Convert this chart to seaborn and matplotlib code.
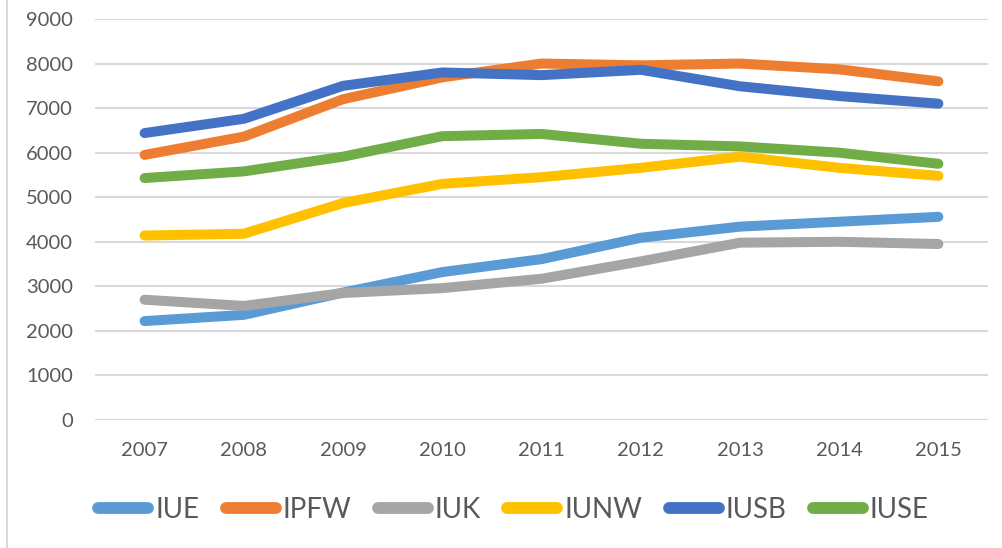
import pandas as pd
import matplotlib.pyplot as plt
import matplotlib.lines as mlines
import seaborn as sns

sns.set_style("white")
plt.rcParams["font.family"] = ["Lato", "DejaVu Sans"]

# values
years = [2007, 2008, 2009, 2010, 2011, 2012, 2013, 2014, 2015]
schools = ["IUE", "IPFW", "IUK", "IUNW", "IUSB", "IUSE"]
iue = [2220, 2360, 2860, 3320, 3610, 4090, 4340, 4450, 4560]
ipfw = [5950, 6360, 7200, 7690, 8000, 7960, 8000, 7870, 7600]
iuk = [2700, 2560, 2850, 2960, 3170, 3560, 3980, 4000, 3950]
iunw = [4140, 4180, 4870, 5300, 5450, 5660, 5910, 5660, 5480]
iusb = [6440, 6760, 7500, 7800, 7740, 7860, 7490, 7270, 7100]
iuse = [5430, 5580, 5910, 6370, 6420, 6200, 6140, 6000, 5750]
colors = ["#5B9BD5", "#ED7D31", "#A5A5A5", "#FFC000", "#4472C4", "#70AD47"]

series = dict(zip(schools, [iue, ipfw, iuk, iunw, iusb, iuse]))
df = pd.DataFrame([
    {"year": y, "school": s, "value": v}
    for s in schools for y, v in zip(years, series[s])
])

fig = plt.figure(figsize=(10.03, 5.48), dpi=100)
ax = fig.add_axes([95 / 1003, 1 - 420 / 548, (988 - 95) / 1003, (420 - 19) / 548])

sns.lineplot(data=df, x="year", y="value", hue="school", hue_order=schools,
             palette=colors, linewidth=7.2, solid_capstyle="round",
             solid_joinstyle="round", legend=False, ax=ax)

ax.set_xlim(2006.5, 2015.5)
ax.set_ylim(0, 9000)
ax.set_yticks(range(0, 9001, 1000))
ax.set_xticks(years)
ax.set_xticklabels([str(y) for y in years])
ax.set_xlabel("")
ax.set_ylabel("")
ax.yaxis.grid(True, color="#D9D9D9", linewidth=1.5)
ax.set_axisbelow(True)
for sp in ax.spines.values():
    sp.set_visible(False)
ax.tick_params(axis="both", length=0, labelsize=14.5, colors="#595959")
ax.tick_params(axis="x", pad=16)
ax.tick_params(axis="y", pad=16)

leg = fig.legend(handles=ax.lines[:len(schools)], labels=schools, loc="center",
                 bbox_to_anchor=(0.512, 1 - 510 / 548), ncol=6, frameon=False,
                 fontsize=20, handlelength=1.8, handletextpad=0.25,
                 columnspacing=0.95, labelcolor="#595959")
for h in leg.legend_handles:
    h.set_linewidth(8.5)

# chart area border on the left
fig.add_artist(mlines.Line2D([7 / 1003, 7 / 1003], [0, 1], color="#D9D9D9",
                             linewidth=1.5, transform=fig.transFigure))

fig.savefig("out.png", dpi=100)
